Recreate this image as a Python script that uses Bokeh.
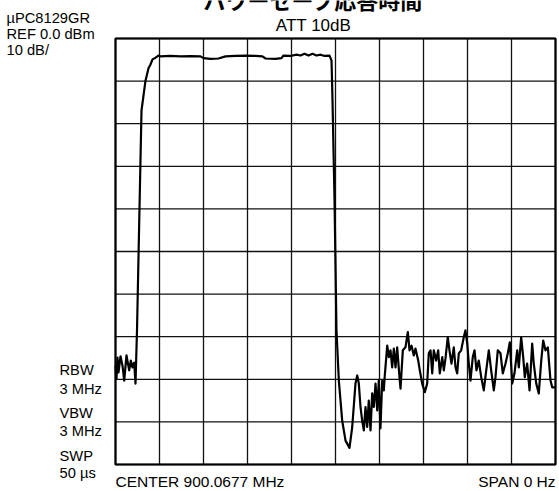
from bokeh.plotting import figure
from bokeh.models import Range1d, Label
from bokeh.embed import file_html
from bokeh.resources import INLINE

# Zero-span sweep: time (µs) vs level (dBm)
time_us = [0.0, 0.114, 0.227, 0.341, 0.568, 0.795, 0.989, 1.25, 1.557, 1.739,
           1.932, 2.125, 2.273, 2.443, 2.955, 3.409, 3.75, 3.977, 4.205, 4.545,
           4.886, 5.11, 6.25, 7.39, 8.52, 9.66, 10.0, 10.8, 11.7, 12.5,
           13.64, 14.77, 15.91, 16.7, 17.05, 18.18, 18.86, 19.09, 19.89, 20.57,
           21.02, 21.48, 21.93, 22.39, 22.84, 23.3, 23.75, 24.32, 24.55, 24.66,
           24.89, 25.11, 25.38, 25.76, 26.14, 26.59, 26.9, 27.27, 27.47, 27.65,
           27.84, 28.03, 28.22, 28.41, 28.6, 28.78, 28.98, 29.17, 29.35, 29.55,
           29.74, 29.92, 30.11, 30.31, 30.49, 30.6, 30.88, 31.06, 31.25, 31.44,
           31.63, 31.82, 32.01, 32.27, 32.39, 32.65, 32.95, 33.22, 33.41, 33.64,
           33.9, 34.09, 34.4, 34.58, 34.85, 35.15, 35.42, 35.6, 35.8, 35.99,
           36.17, 36.44, 36.67, 36.85, 37.13, 37.31, 37.5, 37.76, 37.95, 38.18,
           38.44, 38.64, 38.83, 39.01, 39.28, 39.58, 39.77, 39.97, 40.15, 40.34,
           40.6, 40.8, 41.02, 41.28, 41.56, 41.85, 42.13, 42.42, 42.69, 42.99,
           43.18, 43.44, 43.75, 44.01, 44.32, 44.58, 44.81, 45.08, 45.34, 45.65,
           45.83, 46.1, 46.33, 46.51, 46.78, 47.05, 47.35, 47.53, 47.81, 48.1,
           48.38, 48.6, 48.86, 49.13, 49.43, 49.63, 50.0]
level_dbm = [-76.8, -79.8, -74.9, -78.4, -74.6, -76.8, -80.3, -74.4, -77.9, -75.6,
             -77.2, -76.1, -81.0, -68.5, -16.9, -9.9, -7.0, -6.1, -4.9, -4.5,
             -4.0, -4.2, -4.1, -4.2, -4.15, -4.2, -4.6, -4.8, -4.7, -4.2,
             -4.1, -4.0, -4.1, -4.2, -4.7, -4.8, -4.6, -4.0, -4.1, -3.8,
             -4.0, -3.6, -4.0, -3.6, -4.0, -3.8, -4.1, -4.0, -5.2, -14.6,
             -38.0, -68.5, -80.3, -89.7, -94.4, -96.1, -91.2, -81.0, -79.1, -81.0,
             -86.5, -89.7, -92.0, -86.5, -91.2, -85.0, -92.0, -83.3, -86.5, -81.0,
             -87.3, -80.3, -91.5, -80.3, -82.6, -79.1, -72.1, -74.8, -73.2, -77.2,
             -72.8, -77.2, -72.5, -79.5, -82.2, -73.2, -72.5, -68.9, -73.2, -72.1,
             -74.4, -72.8, -75.6, -77.9, -81.0, -83.0, -81.0, -73.9, -73.2, -78.6,
             -73.2, -75.6, -73.2, -78.6, -74.8, -77.9, -75.1, -70.1, -73.2, -76.3,
             -72.5, -77.2, -78.6, -73.9, -73.2, -70.1, -68.5, -71.6, -76.3, -80.3,
             -74.8, -73.2, -77.9, -75.6, -79.5, -82.6, -77.9, -73.2, -77.9, -82.6,
             -79.5, -73.2, -73.9, -78.6, -76.3, -73.9, -71.3, -81.0, -78.6, -73.2,
             -77.2, -70.1, -74.8, -79.5, -76.3, -82.6, -71.6, -76.3, -81.0, -83.3,
             -75.6, -70.9, -73.2, -72.5, -80.3, -81.9, -81.9]

# Screen graticule: 10 divisions of 5 µs, 10 dB/div from REF 0 dBm
x_ticks = [0, 5, 10, 15, 20, 25, 30, 35, 40, 45, 50]
y_ticks = [-100, -90, -80, -70, -60, -50, -40, -30, -20, -10, 0]

title_text = "パワーセーブ応答時間"
att_text = "ATT 10dB"
header_lines = ["\u00b5PC8129GR", "REF 0.0 dBm", "10 dB/"]
setting_lines = ["RBW", "3 MHz", "VBW", "3 MHz", "SWP", "50 \u00b5s"]
center_text = "CENTER 900.0677 MHz"
span_text = "SPAN 0 Hz"

# canvas size and where the graticule sits on it (pixels)
W, H = 559, 491
G_LEFT, G_RIGHT, G_TOP, G_BOTTOM = 115, 555, 38, 464

x0, x1 = x_ticks[0], x_ticks[-1]
y0, y1 = y_ticks[0], y_ticks[-1]
kx = (x1 - x0) / (G_RIGHT - G_LEFT)
ky = (y1 - y0) / (G_BOTTOM - G_TOP)

def dx(px):
    return x0 + (px - G_LEFT) * kx

def dy(py):
    return y1 - (py - G_TOP) * ky

p = figure(width=W, height=H, output_backend="svg", toolbar_location=None,
           x_range=Range1d(dx(0), dx(W)), y_range=Range1d(dy(H), dy(0)),
           min_border=0, min_border_left=0, min_border_right=0,
           min_border_top=0, min_border_bottom=0,
           background_fill_color="white", border_fill_color="white")
p.axis.visible = False
p.grid.visible = False
p.outline_line_color = None

# graticule lines
p.segment(x0=x_ticks, y0=[y0] * len(x_ticks), x1=x_ticks, y1=[y1] * len(x_ticks),
          line_color="#111111", line_width=1.3)
p.segment(x0=[x0] * len(y_ticks), y0=y_ticks, x1=[x1] * len(y_ticks), y1=y_ticks,
          line_color="#111111", line_width=1.3)
p.quad(left=[x0], right=[x1], bottom=[y0], top=[y1], fill_color=None,
       line_color="black", line_width=2.2)

# trace
p.line(time_us, level_dbm, line_color="black", line_width=2.2, line_join="round")

FONT = "Liberation Sans"

def add_label(text, px, py, size, align="left", font=FONT, style="normal"):
    p.add_layout(Label(x=dx(px), y=dy(py), text=text, text_font=font,
                       text_font_size=size, text_align=align,
                       text_baseline="alphabetic", text_color="black",
                       text_font_style=style))

add_label(title_text, 313, -2, "22px", align="center",
          font="Noto Sans CJK JP", style="bold")
add_label(att_text, 313, 25, "17px", align="center")

for txt, base in zip(header_lines, [17, 33, 49]):
    add_label(txt, 6, base, "14.7px")

for txt, base in zip(setting_lines, [369.5, 388.5, 412.8, 430.8, 455.2, 472.8]):
    add_label(txt, 59, base, "14.7px")

add_label(center_text, 115, 480.5, "15.5px")
add_label(span_text, 555, 480.5, "15.5px", align="right")

open("out.html", "w").write(file_html(p, INLINE))
